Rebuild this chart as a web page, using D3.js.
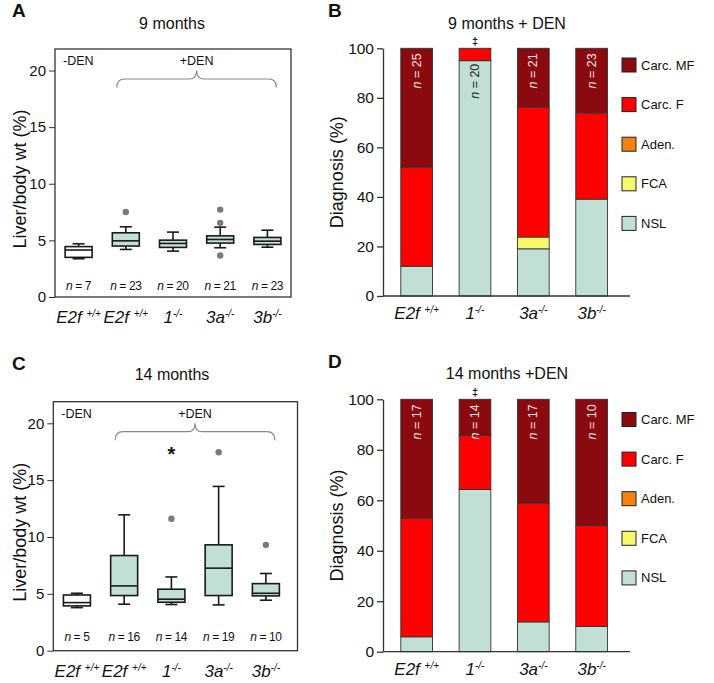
<!DOCTYPE html>
<html>
<head>
<meta charset="utf-8">
<script src="https://cdn.jsdelivr.net/npm/d3@7"></script>
<style>
body {margin: 0; background: #fff}
text {font-family: "Liberation Sans", Arial, sans-serif; fill: #111}
</style>
</head>
<body>
<div id="chart"></div>
<script>
// box plot groups (liver / body weight)
var boxGroups = ["E2f -DEN", "E2f", "1", "3a", "3b"]
var boxBase = ["E2f", "E2f", "1", "3a", "3b"]
var boxSup = ["+/+", "+/+", "-/-", "-/-", "-/-"]
var boxTicks = [0, 5, 10, 15, 20]

// [low whisker, q1, median, q3, high whisker]
var box9 = [[3.38, 3.5, 4.15, 4.45, 4.7], [4.2, 4.5, 4.96, 5.67, 6.2], [4.05, 4.38, 4.73, 5.02, 5.73], [4.35, 4.76, 5.08, 5.4, 6.17], [4.4, 4.64, 4.93, 5.26, 5.9]]
var outliers9 = [[], [7.5], [], [7.72, 6.55, 3.67], []]
var n9 = [7, 23, 20, 21, 23]

var box14 = [[3.79, 3.94, 4.23, 4.9, 5.05], [4.09, 4.85, 5.7, 8.37, 11.95], [4.06, 4.26, 4.53, 5.41, 6.49], [4.03, 4.85, 7.26, 9.31, 14.45], [4.44, 4.82, 5.05, 5.9, 6.79]]
var outliers14 = [[], [], [11.6], [17.45], [9.31]]
var n14 = [5, 16, 14, 19, 10]
var star14 = [{group: "1", value: 17.5}]

// stacked diagnosis bars
var barGroups = ["E2f", "1", "3a", "3b"]
var barBase = ["E2f", "1", "3a", "3b"]
var barSup = ["+/+", "-/-", "-/-", "-/-"]
var diagKeys = ["NSL", "FCA", "Aden.", "Carc. F", "Carc. MF"]
var diagColors = ["#c2dfd5", "#f8f86c", "#f5820f", "#ff0000", "#8b0a10"]
var pctTicks = [0, 20, 40, 60, 80, 100]

var nsl9 = [12, 95, 19.05, 39.1]
var fca9 = [0, 0, 4.76, 0]
var aden9 = [0, 0, 0, 0]
var carcF9 = [40, 5, 52.38, 34.8]
var carcMF9 = [48, 0, 23.81, 26.1]
var nBar9 = [25, 20, 21, 23]

var nsl14 = [5.9, 64.3, 11.8, 10]
var fca14 = [0, 0, 0, 0]
var aden14 = [0, 0, 0, 0]
var carcF14 = [47.05, 21.4, 47.05, 40]
var carcMF14 = [47.05, 14.3, 41.15, 50]
var nBar14 = [17, 14, 17, 10]

var svg = d3.select('#chart').append('svg')
    .attr('width', 714)
    .attr('height', 683)

function groupLabel(sel, base, sup, gap) {
  sel.append('tspan').style('font-style', 'italic').text(base + (gap ? ' ' : ''))
  sel.append('tspan').attr('dy', -6).attr('font-size', 10)
      .style('font-style', 'italic').text(sup)
}

function nLabel(sel, n) {
  sel.append('tspan').style('font-style', 'italic').text('n')
  sel.append('tspan').text(' = ' + n)
}

function boxPanel(o) {
  var y = d3.scaleLinear().domain([0, 21.9]).range([o.bottom, o.top])
  var x = d3.scaleBand().domain(boxGroups).range(o.xRange)
  var bw = 27, cap = 12

  svg.append('text').attr('x', 12).attr('y', o.top - 32).attr('font-size', 19)
      .attr('font-weight', 'bold').text(o.letter)
  svg.append('text').attr('x', 172).attr('y', o.titleY).attr('font-size', 16)
      .attr('text-anchor', 'middle').text(o.title)

  svg.append('g')
      .attr('transform', 'translate(' + o.frame[0] + ',0)')
      .call(d3.axisLeft(y).tickValues(boxTicks).tickSize(6).tickPadding(3))
      .call(function(g) {
        g.select('.domain').remove()
        g.selectAll('line').attr('stroke', '#333')
        g.selectAll('text').attr('font-size', 15).attr('fill', '#111')
      })

  svg.append('rect')
      .attr('x', o.frame[0]).attr('y', o.top)
      .attr('width', o.frame[1] - o.frame[0]).attr('height', o.bottom - o.top)
      .attr('fill', 'none').attr('stroke', '#333').attr('stroke-width', 1.3)

  svg.append('text')
      .attr('transform', 'translate(26,' + ((o.top + o.bottom) / 2 + 6) + ') rotate(-90)')
      .attr('text-anchor', 'middle').attr('font-size', 18).text('Liver/body wt (%)')

  // -DEN / +DEN brace
  svg.append('text').attr('x', o.frame[0] + 8).attr('y', o.top + 16)
      .attr('font-size', 12.5).text('-DEN')
  var b1 = x(boxGroups[1]) + x.bandwidth() / 2 - 9
  var b2 = x(boxGroups[4]) + x.bandwidth() / 2 + 9
  var mid = (b1 + b2) / 2
  var yl = o.top + 30, ye = o.top + 38.5, yp = o.top + 21.5
  svg.append('text').attr('x', mid).attr('y', o.top + 16).attr('text-anchor', 'middle')
      .attr('font-size', 12.5).text('+DEN')
  svg.append('path')
      .attr('d', 'M' + b1 + ',' + ye + ' Q' + b1 + ',' + yl + ' ' + (b1 + 8) + ',' + yl +
        ' L' + (mid - 7) + ',' + yl + ' Q' + mid + ',' + yl + ' ' + mid + ',' + yp +
        ' Q' + mid + ',' + yl + ' ' + (mid + 7) + ',' + yl +
        ' L' + (b2 - 8) + ',' + yl + ' Q' + b2 + ',' + yl + ' ' + b2 + ',' + ye)
      .attr('fill', 'none').attr('stroke', '#888').attr('stroke-width', 1.2)

  var box = svg.selectAll(null)
    .data(o.boxes.map(function(b, i) {return {g: boxGroups[i], v: b, out: o.outliers[i], n: o.ns[i], i: i}}))
    .enter().append('g')
      .attr('transform', function(d) {return 'translate(' + (x(d.g) + x.bandwidth() / 2) + ',0)'})

  box.append('line')
      .attr('y1', function(d) {return y(d.v[0])}).attr('y2', function(d) {return y(d.v[4])})
      .attr('stroke', '#1a1a1a').attr('stroke-width', 1.6)
  box.selectAll('.cap').data(function(d) {return [d.v[0], d.v[4]]})
    .enter().append('line')
      .attr('x1', -cap / 2).attr('x2', cap / 2)
      .attr('y1', function(v) {return y(v)}).attr('y2', function(v) {return y(v)})
      .attr('stroke', '#1a1a1a').attr('stroke-width', 1.6)
  box.append('rect')
      .attr('x', -bw / 2).attr('width', bw)
      .attr('y', function(d) {return y(d.v[3])})
      .attr('height', function(d) {return y(d.v[1]) - y(d.v[3])})
      .attr('fill', function(d) {return d.i == 0 ? '#fff' : '#c2dfd5'})
      .attr('stroke', '#1a1a1a').attr('stroke-width', 1.6)
  box.append('line')
      .attr('x1', -bw / 2).attr('x2', bw / 2)
      .attr('y1', function(d) {return y(d.v[2])}).attr('y2', function(d) {return y(d.v[2])})
      .attr('stroke', '#1a1a1a').attr('stroke-width', 1.6)
  box.selectAll('circle').data(function(d) {return d.out})
    .enter().append('circle')
      .attr('cy', function(v) {return y(v)}).attr('r', 3.2).attr('fill', '#7a7a7a')

  box.append('text')
      .attr('y', o.bottom - o.nOff).attr('text-anchor', 'middle')
      .attr('font-size', 12).attr('letter-spacing', -0.4)
      .each(function(d) {nLabel(d3.select(this), d.n)})

  box.append('text')
      .attr('y', o.bottom + 26).attr('text-anchor', 'middle').attr('font-size', 17)
      .each(function(d) {groupLabel(d3.select(this), boxBase[d.i], boxSup[d.i], d.i < 2)})

  svg.selectAll(null).data(o.stars || [])
    .enter().append('text')
      .attr('x', function(d) {return x(d.group) + x.bandwidth() / 2})
      .attr('y', function(d) {return y(d.value) + 9})
      .attr('text-anchor', 'middle').attr('font-size', 20).attr('font-weight', 'bold')
      .text('*')
}

function stackPanel(o) {
  var rows = barGroups.map(function(g, i) {
    var r = {group: g, n: o.ns[i], i: i}
    diagKeys.forEach(function(k, j) {r[k] = o.series[j][i]})
    return r
  })
  var stacked = d3.stack().keys(diagKeys)(rows)
  var y = d3.scaleLinear().domain([0, 100]).range([o.bottom, o.top])
  var x = d3.scaleBand().domain(barGroups).range([387.5, 620.8]).paddingInner(0.456).paddingOuter(0.228)
  var z = d3.scaleOrdinal().domain(diagKeys).range(diagColors)

  svg.append('text').attr('x', 328).attr('y', o.top - 31).attr('font-size', 19)
      .attr('font-weight', 'bold').text(o.letter)
  svg.append('text').attr('x', 507).attr('y', o.titleY).attr('font-size', 16)
      .attr('text-anchor', 'middle').text(o.title)
  svg.append('text')
      .attr('x', x(barGroups[1]) + x.bandwidth() / 2).attr('y', o.top - 3)
      .attr('text-anchor', 'middle').attr('font-size', 11).attr('font-weight', 'bold').text('\u2021')

  svg.append('text')
      .attr('transform', 'translate(343,' + ((o.top + o.bottom) / 2) + ') rotate(-90)')
      .attr('text-anchor', 'middle').attr('font-size', 18).text('Diagnosis (%)')

  svg.selectAll(null).data(stacked)
    .enter().append('g')
      .attr('fill', function(d) {return z(d.key)})
    .selectAll('rect')
    .data(function(d) {return d.filter(function(s) {return s[1] - s[0] > 0})})
    .enter().append('rect')
      .attr('x', function(d) {return x(d.data.group)})
      .attr('width', x.bandwidth())
      .attr('y', function(d) {return y(d[1])})
      .attr('height', function(d) {return y(d[0]) - y(d[1])})
      .attr('stroke', '#333').attr('stroke-width', 0.9)

  svg.append('g')
      .attr('transform', 'translate(383,0)')
      .call(d3.axisLeft(y).tickValues(pctTicks).tickSize(6).tickSizeOuter(0).tickPadding(3))
      .call(function(g) {
        g.selectAll('line, path').attr('stroke', '#333').attr('stroke-width', 1.3)
        g.selectAll('text').attr('font-size', 15.5).attr('fill', '#111')
      })
  svg.append('line')
      .attr('x1', 383).attr('x2', 630).attr('y1', o.bottom).attr('y2', o.bottom)
      .attr('stroke', '#333').attr('stroke-width', 1.3)

  // n labels in the topmost segment tall enough to hold them
  rows.forEach(function(r) {
    var seg = null
    stacked.forEach(function(s) {
      var p = s[r.i]
      if (p[1] - p[0] >= 10) seg = {key: s.key, top: p[1]}
    })
    var cx = x(r.group) + x.bandwidth() / 2
    svg.append('text')
        .attr('transform', 'translate(' + (cx + 4) + ',' + (y(seg.top) + (seg.key == 'NSL' ? 3 : 5)) + ') rotate(-90)')
        .attr('text-anchor', 'end').attr('font-size', 12.5)
        .style('fill', seg.key == 'NSL' ? '#222' : '#f6e4e4')
        .each(function() {nLabel(d3.select(this), r.n)})
  })

  svg.selectAll(null).data(barGroups)
    .enter().append('text')
      .attr('x', function(d) {return x(d) + x.bandwidth() / 2})
      .attr('y', o.bottom + 23).attr('text-anchor', 'middle').attr('font-size', 17)
      .each(function(d, i) {groupLabel(d3.select(this), barBase[i], barSup[i], i == 0)})

  var legend = svg.selectAll(null).data(diagKeys.slice().reverse())
    .enter().append('g')
      .attr('transform', function(d, i) {return 'translate(622,' + (o.legendTop + i * 39.6) + ')'})
  legend.append('rect')
      .attr('x', 0).attr('y', -7).attr('width', 14).attr('height', 14)
      .attr('fill', function(d) {return z(d)}).attr('stroke', '#222').attr('stroke-width', 1)
  legend.append('text')
      .attr('x', 19).attr('dy', '0.35em').attr('font-size', 13).text(function(d) {return d})
}

boxPanel({letter: 'A', title: '9 months', titleY: 29, top: 49, bottom: 297,
  frame: [55, 291], xRange: [55, 291], boxes: box9, outliers: outliers9, ns: n9, nOff: 7})
boxPanel({letter: 'C', title: '14 months', titleY: 380, top: 401.7, bottom: 650.7,
  frame: [53.3, 297.5], xRange: [53.3, 289.5], boxes: box14, outliers: outliers14, ns: n14,
  nOff: 10, stars: star14})

stackPanel({letter: 'B', title: '9 months + DEN', titleY: 29, top: 48.3, bottom: 296,
  series: [nsl9, fca9, aden9, carcF9, carcMF9], ns: nBar9, legendTop: 65})
stackPanel({letter: 'D', title: '14 months +DEN', titleY: 379, top: 399.3, bottom: 651.7,
  series: [nsl14, fca14, aden14, carcF14, carcMF14], ns: nBar14, legendTop: 419.5})
</script>
</body>
</html>
